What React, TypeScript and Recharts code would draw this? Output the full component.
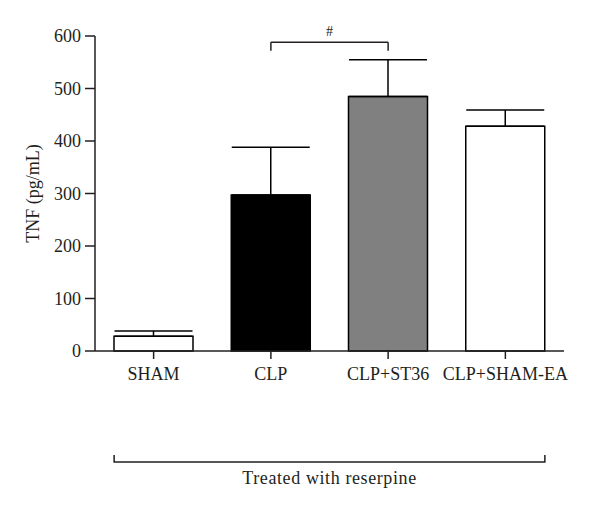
import { Bar, BarChart, Cell, ErrorBar, ReferenceLine, XAxis, YAxis } from "recharts";

const categories = ["SHAM", "CLP", "CLP+ST36", "CLP+SHAM-EA"];
const tnfMean = [28, 297, 485, 428];
const tnfSem = [10, 91, 70, 31];
const barFills = ["#ffffff", "#000000", "#808080", "#ffffff"];
const yTicks = [0, 100, 200, 300, 400, 500, 600];

const data = categories.map((name, i) => ({ name, tnf: tnfMean[i], err: [0, tnfSem[i]] }));

const FONT = "'Liberation Serif', 'DejaVu Serif', serif";
const INK = "#231f20";
const BAR_SIZE = 79;

function YLabel({ viewBox }: any) {
	const cx = viewBox.x + 33;
	const cy = viewBox.y + viewBox.height / 2;
	return (
		<text x={cx} y={cy} transform={`rotate(-90, ${cx}, ${cy})`} textAnchor="middle" dominantBaseline="central" fontFamily={FONT} fontSize={18} fill={INK}>
			TNF (pg/mL)
		</text>
	);
}

// bracket under the groups, from first bar's left edge to last bar's right edge
function TreatedBracket({ viewBox }: any) {
	const band = viewBox.width / categories.length;
	const inset = (band - BAR_SIZE) / 2;
	const x1 = viewBox.x + inset;
	const x2 = viewBox.x + viewBox.width - inset;
	const y = viewBox.y + 111;
	return (
		<g>
			<path d={`M${x1},${y - 7} L${x1},${y} L${x2},${y} L${x2},${y - 7}`} fill="none" stroke={INK} strokeWidth={1.5} />
			<text x={(x1 + x2) / 2} y={y + 22} textAnchor="middle" fontFamily={FONT} fontSize={18} letterSpacing={0.6} fill={INK}>
				Treated with reserpine
			</text>
		</g>
	);
}

export default function App() {
	return (
		<div style={{ position: "absolute", left: 0, top: 0, background: "#fff" }}>
			<BarChart width={600} height={510} data={data} margin={{ top: 36, right: 36, bottom: 0, left: 0 }} style={{ fontFamily: FONT }}>
				<XAxis
					dataKey="name"
					height={159}
					tickSize={8}
					tickMargin={8}
					stroke={INK}
					strokeWidth={1.5}
					tick={{ fontFamily: FONT, fontSize: 18, fill: INK }}
					label={<TreatedBracket />}
				/>
				<YAxis
					width={95}
					domain={[0, 600]}
					ticks={yTicks}
					interval={0}
					tickSize={10}
					tickMargin={4}
					stroke={INK}
					strokeWidth={1.5}
					tick={{ fontFamily: FONT, fontSize: 18, fill: INK }}
					label={<YLabel />}
				/>
				<Bar dataKey="tnf" barSize={BAR_SIZE} stroke="#000" strokeWidth={1.5} isAnimationActive={false}>
					{data.map((d, i) => (
						<Cell key={d.name} fill={barFills[i]} />
					))}
					<ErrorBar dataKey="err" direction="y" width={39} stroke="#000" strokeWidth={1.5} isAnimationActive={false} />
				</Bar>
				<ReferenceLine
					segment={[{ x: "CLP", y: 588 }, { x: "CLP+ST36", y: 588 }]}
					stroke={INK}
					strokeWidth={1.5}
					ifOverflow="visible"
					label={{ value: "#", position: "top", offset: 6, fontFamily: FONT, fontSize: 14, fill: INK }}
				/>
				<ReferenceLine segment={[{ x: "CLP", y: 572 }, { x: "CLP", y: 588 }]} stroke={INK} strokeWidth={1.5} ifOverflow="visible" />
				<ReferenceLine segment={[{ x: "CLP+ST36", y: 572 }, { x: "CLP+ST36", y: 588 }]} stroke={INK} strokeWidth={1.5} ifOverflow="visible" />
			</BarChart>
		</div>
	);
}
